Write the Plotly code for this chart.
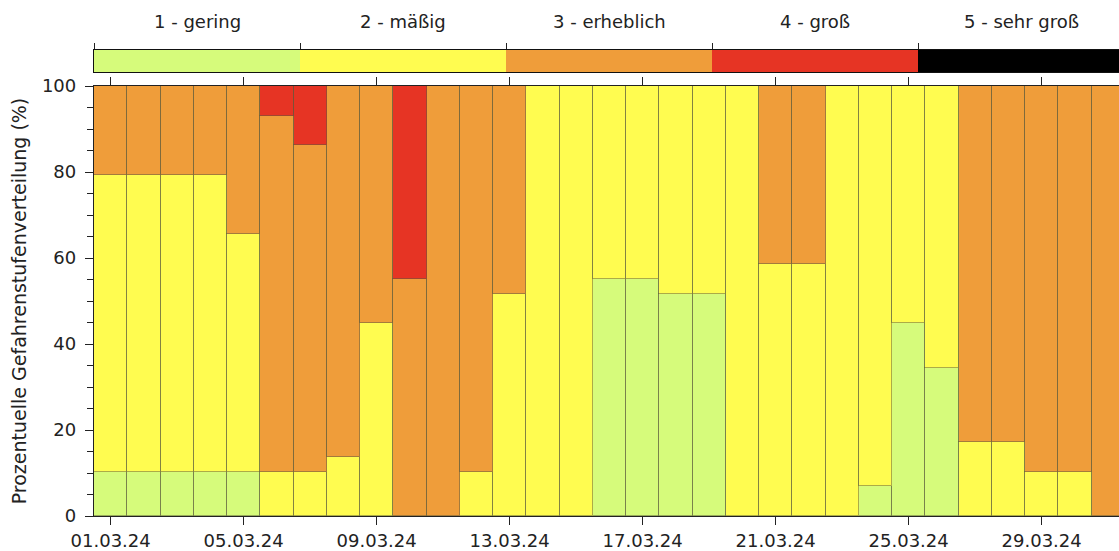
import plotly.graph_objects as go

dates = ["%02d.03.24" % d for d in range(1, 32)]
tick_dates = ["01.03.24", "05.03.24", "09.03.24", "13.03.24", "17.03.24", "21.03.24", "25.03.24", "29.03.24"]

level_names = ["1 - gering", "2 - mäßig", "3 - erheblich", "4 - groß", "5 - sehr groß"]
level_colors = ["#d6fb7b", "#fffc50", "#ef9d3a", "#e63424", "#000000"]

gering = [10.3, 10.3, 10.3, 10.3, 10.3, 0, 0, 0, 0, 0,
          0, 0, 0, 0, 0, 55.2, 55.2, 51.7, 51.7, 0,
          0, 0, 0, 6.9, 44.8, 34.5, 0, 0, 0, 0, 0]
maessig = [69.0, 69.0, 69.0, 69.0, 55.2, 10.3, 10.3, 13.8, 44.8, 0,
           0, 10.3, 51.7, 100, 100, 44.8, 44.8, 48.3, 48.3, 100,
           58.6, 58.6, 100, 93.1, 55.2, 65.5, 17.2, 17.2, 10.3, 10.3, 0]
erheblich = [20.7, 20.7, 20.7, 20.7, 34.5, 82.8, 75.9, 86.2, 55.2, 55.2,
             100, 89.7, 48.3, 0, 0, 0, 0, 0, 0, 0,
             41.4, 41.4, 0, 0, 0, 0, 82.8, 82.8, 89.7, 89.7, 100]
gross = [0, 0, 0, 0, 0, 6.9, 13.8, 0, 0, 44.8,
         0, 0, 0, 0, 0, 0, 0, 0, 0, 0,
         0, 0, 0, 0, 0, 0, 0, 0, 0, 0, 0]
sehr_gross = [0] * 31

series = [gering, maessig, erheblich, gross, sehr_gross]

W, H = 1119, 551
plot_left_px = 94
plot_top_px, plot_bot_px = 86, 516
bar_top_px, bar_bot_px = 50, 72
label_px = 22
ml, mr, mt, mb = plot_left_px, 0, 10, H - plot_bot_px
ph = H - mt - mb
day_px = 33.25
pw = W - ml - mr
seg_px = 206

def fy(px):
    return (plot_bot_px - px) / ph

x = list(range(1, 32))
fig = go.Figure()
for name, color, vals in zip(level_names, level_colors, series):
    fig.add_trace(go.Bar(
        x=x, y=[v if v > 0 else None for v in vals], name=name,
        marker=dict(color=color, line=dict(color="rgba(90,90,60,0.5)", width=1)),
        xaxis="x", yaxis="y", showlegend=False,
    ))

# legend colour bar
for name, color in zip(level_names, level_colors):
    fig.add_trace(go.Bar(
        x=[1], y=[0], orientation="h", name=name,
        marker=dict(color=color, line=dict(width=0)),
        xaxis="x2", yaxis="y2", showlegend=False,
    ))

for i, name in enumerate(level_names):
    fig.add_annotation(x=i + 0.5, y=fy(label_px), xref="x2", yref="paper",
                       xanchor="center", yanchor="middle",
                       text=name, showarrow=False,
                       font=dict(size=18, color="#222", family="DejaVu Sans"))

tickfont = dict(size=18, color="#222", family="DejaVu Sans")
fig.update_layout(
    width=W, height=H,
    margin=dict(l=ml, r=mr, t=mt, b=mb, autoexpand=False),
    paper_bgcolor="white", plot_bgcolor="white",
    barmode="stack", bargap=0,
    font=dict(family="DejaVu Sans", color="#222"),
    xaxis=dict(
        domain=[0, 1], range=[0.5, 0.5 + pw / day_px], automargin=False,
        tickvals=[1, 5, 9, 13, 17, 21, 25, 29], ticktext=tick_dates,
        ticks="outside", ticklen=8, tickwidth=1.2, tickcolor="#222",
        showline=True, linecolor="#222", linewidth=1.3, mirror="ticks",
        showgrid=False, zeroline=False, tickfont=tickfont, fixedrange=True,
    ),
    yaxis=dict(
        domain=[0, fy(plot_top_px)], range=[0, 100], automargin=False,
        tickvals=[0, 20, 40, 60, 80, 100],
        ticks="outside", ticklen=8, tickwidth=1.2, tickcolor="#222",
        minor=dict(dtick=5, tick0=0, ticks="outside", ticklen=6, tickwidth=1.2, tickcolor="#222", showgrid=False),
        showline=True, linecolor="#222", linewidth=1.3,
        showgrid=False, zeroline=False, tickfont=tickfont,
        title=dict(text="Prozentuelle Gefahrenstufenverteilung (%)", font=dict(size=19, color="#222"), standoff=10),
        ticklabelstandoff=5,
    ),
    xaxis2=dict(
        domain=[0, 1], range=[0, pw / seg_px], anchor="y2", side="top", automargin=False,
        tickvals=[0, 1, 2, 3, 4, 5], ticks="outside", ticklen=6, tickwidth=1.2, tickcolor="#222",
        showticklabels=False, showline=True, linecolor="#111", linewidth=1.3, mirror=True,
        showgrid=False, zeroline=False,
    ),
    yaxis2=dict(
        domain=[fy(bar_bot_px), fy(bar_top_px)], range=[-0.5, 0.5], anchor="x2", automargin=False,
        showticklabels=False, ticks="", showline=True, linecolor="#111", linewidth=1.3, mirror=True,
        showgrid=False, zeroline=False,
    ),
)

fig.write_html(
    "out.html",
    config={"displayModeBar": False},
    post_script="document.body.style.margin='0';document.documentElement.style.overflow='hidden';document.body.style.overflow='hidden';",
)
